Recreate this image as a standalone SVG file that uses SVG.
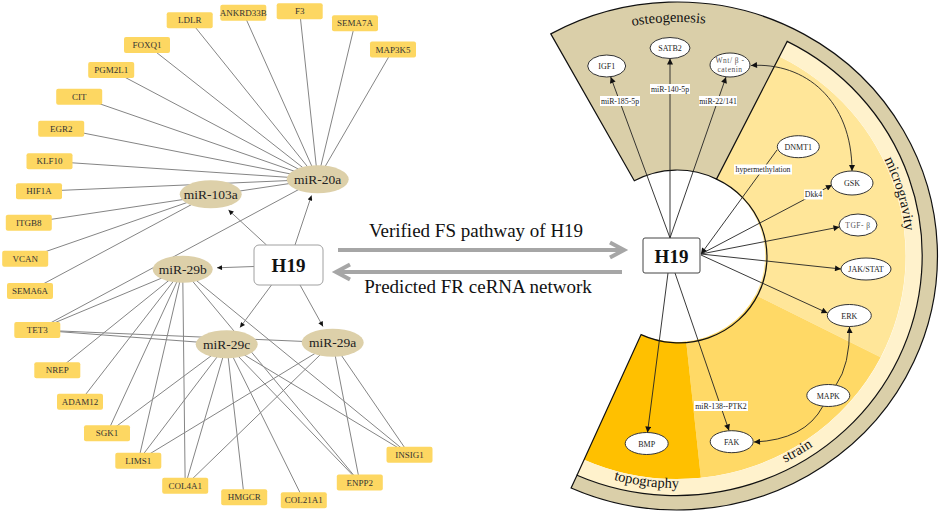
<svg xmlns="http://www.w3.org/2000/svg" width="941" height="515" viewBox="0 0 941 515">
<style>
.g rect{fill:#FDD762}
.g text{font-family:'Liberation Serif',serif;font-size:9px;fill:#333;text-anchor:middle}
.m ellipse{fill:#DDD0A9}
.m text{font-family:'Liberation Serif',serif;font-size:13.5px;fill:#222;text-anchor:middle}
.e line{stroke:#858585;stroke-width:1}
.a{stroke:#444;stroke-width:1;marker-end:url(#ah)}
.r ellipse{fill:#fff;stroke:#333;stroke-width:1}
.r text{font-family:'Liberation Serif',serif;font-size:8px;fill:#222;text-anchor:middle}
.r text.lt{fill:#555;font-size:7.5px;letter-spacing:0.5px}
.lb rect{fill:#fff}
.lb text{font-family:'Liberation Serif',serif;font-size:7.8px;fill:#222;text-anchor:middle}
.k{stroke:#222;stroke-width:0.9;fill:none;marker-end:url(#ar)}
.big{font-family:'Liberation Serif',serif;font-size:19px;fill:#111;text-anchor:middle}
.sec{font-family:'Liberation Serif',serif;font-size:14.5px;fill:#111}
.ga{stroke:#A6A6A6;stroke-width:4;fill:none}
</style>
<defs>
<marker id="ah" viewBox="0 0 10 10" refX="10" refY="5" markerWidth="6" markerHeight="5" markerUnits="userSpaceOnUse" orient="auto"><path d="M0,0 L10,5 L0,10z" fill="#111"/></marker>
<marker id="ar" viewBox="0 0 10 10" refX="10" refY="5" markerWidth="8" markerHeight="6" markerUnits="userSpaceOnUse" orient="auto-start-reverse"><path d="M0,0 L10,5 L0,10z" fill="#111"/></marker>
<path id="pOst" d="M560.7 51.3 A239.9 234 0 0 1 778.4 43.9"/>
<path id="pTopo" d="M576.5 466.3 A237.8 232 0 0 0 718.3 484.5"/>
<path id="pStrain" d="M742.5 479 A237.8 232 0 0 0 848 417.2"/>
<path id="pMicro" d="M873.8 140.6 A229.6 224 0 0 1 906.6 252.1"/>
</defs>

<!-- right: sector background -->
<g id="sectors">
<path d="M550.8 33.9 A260.35 254 0 1 1 571.1 488 L577 475.2 A246 240 0 0 0 787.2 41.4 L716.5 179.1 A88.15 86 0 0 0 634.3 180.8 Z" fill="#DACFA9"/>
<path d="M779.4 56.6 A228.6 223 0 0 1 880.7 357.2 L755.5 295 A88.15 86 0 0 0 716.5 179.1 Z" fill="#FFE699"/>
<path d="M880.7 357.2 A228.6 223 0 0 1 700.9 477.8 L686.2 341.5 A88.15 86 0 0 0 755.5 295 Z" fill="#FFD966"/>
<path d="M700.9 477.8 A228.6 223 0 0 1 584 459.7 L641.1 334.6 A88.15 86 0 0 0 686.2 341.5 Z" fill="#FFC000"/>
<path d="M787.2 41.4 A246 240 0 0 1 577 475.2 L584 459.7 A228.6 223 0 0 0 779.4 56.6 Z" fill="#FFF2CC"/>
<path d="M550.8 33.9 A260.35 254 0 1 1 571.1 488 L577 475.2 A246 240 0 0 0 787.2 41.4 L716.5 179.1 A88.15 86 0 0 0 634.3 180.8 Z" fill="none" stroke="#111" stroke-width="1.2"/>
<path d="M716.5 179.1 A88.15 86 0 0 1 641.1 334.6 L577 475.2" fill="none" stroke="#111" stroke-width="1.2"/>
<text class="sec"><textPath href="#pOst" startOffset="50%" text-anchor="middle">osteogenesis</textPath></text>
<text class="sec"><textPath href="#pTopo" startOffset="50%" text-anchor="middle">topography</textPath></text>
<text class="sec"><textPath href="#pStrain" startOffset="50%" text-anchor="middle">strain</textPath></text>
<text class="sec"><textPath href="#pMicro" startOffset="50%" text-anchor="middle">microgravity</textPath></text>
</g>

<!-- left connectors -->
<g id="connectors-left" class="e">
<line x1="317.7" y1="179.3" x2="189.7" y2="20.3"/>
<line x1="317.7" y1="179.3" x2="243.3" y2="12.8"/>
<line x1="317.7" y1="179.3" x2="299.7" y2="11.3"/>
<line x1="317.7" y1="179.3" x2="355" y2="23.3"/>
<line x1="317.7" y1="179.3" x2="393" y2="49.5"/>
<line x1="317.7" y1="179.3" x2="147" y2="45"/>
<line x1="317.7" y1="179.3" x2="111.2" y2="70"/>
<line x1="317.7" y1="179.3" x2="79.2" y2="96.7"/>
<line x1="317.7" y1="179.3" x2="61.2" y2="128.7"/>
<line x1="317.7" y1="179.3" x2="49.5" y2="161.3"/>
<line x1="317.7" y1="179.3" x2="39" y2="191.3"/>
<line x1="317.7" y1="179.3" x2="28.8" y2="222.7"/>
<line x1="317.7" y1="179.3" x2="37.3" y2="330"/>
<line x1="210.7" y1="194.3" x2="25.2" y2="258.7"/>
<line x1="210.7" y1="194.3" x2="30" y2="291"/>
<line x1="182.7" y1="269.3" x2="37.3" y2="330"/>
<line x1="182.7" y1="269.3" x2="57.3" y2="370.3"/>
<line x1="182.7" y1="269.3" x2="80" y2="401.7"/>
<line x1="182.7" y1="269.3" x2="107" y2="433.3"/>
<line x1="182.7" y1="269.3" x2="138.3" y2="460.8"/>
<line x1="182.7" y1="269.3" x2="185.2" y2="485.8"/>
<line x1="182.7" y1="269.3" x2="359.8" y2="482.5"/>
<line x1="182.7" y1="269.3" x2="409.5" y2="454.7"/>
<line x1="226.7" y1="344.3" x2="37.3" y2="330"/>
<line x1="226.7" y1="344.3" x2="107" y2="433.3"/>
<line x1="226.7" y1="344.3" x2="138.3" y2="460.8"/>
<line x1="226.7" y1="344.3" x2="185.2" y2="485.8"/>
<line x1="226.7" y1="344.3" x2="244.2" y2="497.3"/>
<line x1="226.7" y1="344.3" x2="303.8" y2="500.3"/>
<line x1="226.7" y1="344.3" x2="359.8" y2="482.5"/>
<line x1="226.7" y1="344.3" x2="409.5" y2="454.7"/>
<line x1="332.7" y1="342.7" x2="37.3" y2="330"/>
<line x1="332.7" y1="342.7" x2="138.3" y2="460.8"/>
<line x1="332.7" y1="342.7" x2="185.2" y2="485.8"/>
<line x1="332.7" y1="342.7" x2="359.8" y2="482.5"/>
<line x1="332.7" y1="342.7" x2="409.5" y2="454.7"/>
<line class="a" x1="295" y1="245" x2="311.5" y2="195.5"/>
<line class="a" x1="266.5" y1="245" x2="228.5" y2="210"/>
<line class="a" x1="254" y1="266.5" x2="217" y2="267.8"/>
<line class="a" x1="271.5" y1="285" x2="240" y2="327.5"/>
<line class="a" x1="300" y1="285" x2="323" y2="326.5"/>
</g>

<!-- gene nodes -->
<g id="LDLR" class="g"><rect x="166.7" y="12.3" width="46" height="16" rx="2"/><text x="189.7" y="23.3">LDLR</text></g>
<g id="ANKRD33B" class="g"><rect x="220.3" y="4.8" width="46" height="16" rx="2"/><text x="243.3" y="15.8">ANKRD33B</text></g>
<g id="F3" class="g"><rect x="276.7" y="3.3" width="46" height="16" rx="2"/><text x="299.7" y="14.3">F3</text></g>
<g id="SEMA7A" class="g"><rect x="332" y="15.3" width="46" height="16" rx="2"/><text x="355" y="26.3">SEMA7A</text></g>
<g id="MAP3K5" class="g"><rect x="370" y="41.5" width="46" height="16" rx="2"/><text x="393" y="52.5">MAP3K5</text></g>
<g id="FOXQ1" class="g"><rect x="124" y="37" width="46" height="16" rx="2"/><text x="147" y="48">FOXQ1</text></g>
<g id="PGM2L1" class="g"><rect x="88.2" y="62" width="46" height="16" rx="2"/><text x="111.2" y="73">PGM2L1</text></g>
<g id="CIT" class="g"><rect x="56.2" y="88.7" width="46" height="16" rx="2"/><text x="79.2" y="99.7">CIT</text></g>
<g id="EGR2" class="g"><rect x="38.2" y="120.7" width="46" height="16" rx="2"/><text x="61.2" y="131.7">EGR2</text></g>
<g id="KLF10" class="g"><rect x="26.5" y="153.3" width="46" height="16" rx="2"/><text x="49.5" y="164.3">KLF10</text></g>
<g id="HIF1A" class="g"><rect x="16" y="183.3" width="46" height="16" rx="2"/><text x="39" y="194.3">HIF1A</text></g>
<g id="ITGB8" class="g"><rect x="5.8" y="214.7" width="46" height="16" rx="2"/><text x="28.8" y="225.7">ITGB8</text></g>
<g id="VCAN" class="g"><rect x="2.2" y="250.7" width="46" height="16" rx="2"/><text x="25.2" y="261.7">VCAN</text></g>
<g id="SEMA6A" class="g"><rect x="7" y="283" width="46" height="16" rx="2"/><text x="30" y="294">SEMA6A</text></g>
<g id="TET3" class="g"><rect x="14.3" y="322" width="46" height="16" rx="2"/><text x="37.3" y="333">TET3</text></g>
<g id="NREP" class="g"><rect x="34.3" y="362.3" width="46" height="16" rx="2"/><text x="57.3" y="373.3">NREP</text></g>
<g id="ADAM12" class="g"><rect x="57" y="393.7" width="46" height="16" rx="2"/><text x="80" y="404.7">ADAM12</text></g>
<g id="SGK1" class="g"><rect x="84" y="425.3" width="46" height="16" rx="2"/><text x="107" y="436.3">SGK1</text></g>
<g id="LIMS1" class="g"><rect x="115.3" y="452.8" width="46" height="16" rx="2"/><text x="138.3" y="463.8">LIMS1</text></g>
<g id="COL4A1" class="g"><rect x="162.2" y="477.8" width="46" height="16" rx="2"/><text x="185.2" y="488.8">COL4A1</text></g>
<g id="HMGCR" class="g"><rect x="221.2" y="489.3" width="46" height="16" rx="2"/><text x="244.2" y="500.3">HMGCR</text></g>
<g id="COL21A1" class="g"><rect x="280.8" y="492.3" width="46" height="16" rx="2"/><text x="303.8" y="503.3">COL21A1</text></g>
<g id="ENPP2" class="g"><rect x="336.8" y="474.5" width="46" height="16" rx="2"/><text x="359.8" y="485.5">ENPP2</text></g>
<g id="INSIG1" class="g"><rect x="386.5" y="446.7" width="46" height="16" rx="2"/><text x="409.5" y="457.7">INSIG1</text></g>

<!-- miRNA nodes -->
<g id="miR-20a" class="m"><ellipse cx="317.7" cy="179.3" rx="31" ry="14"/><text x="317.7" y="184">miR-20a</text></g>
<g id="miR-103a" class="m"><ellipse cx="210.7" cy="194.3" rx="31" ry="14"/><text x="210.7" y="199">miR-103a</text></g>
<g id="miR-29b" class="m"><ellipse cx="182.7" cy="269.3" rx="30" ry="13.5"/><text x="182.7" y="274">miR-29b</text></g>
<g id="miR-29c" class="m"><ellipse cx="226.7" cy="344.3" rx="31" ry="14"/><text x="226.7" y="349">miR-29c</text></g>
<g id="miR-29a" class="m"><ellipse cx="332.7" cy="342.7" rx="31" ry="14"/><text x="332.7" y="347.4">miR-29a</text></g>
<g id="H19-left"><rect x="254" y="245" width="69" height="40" rx="5" fill="#fff" stroke="#A0A0A0" stroke-width="1"/><text x="288.5" y="271.5" font-family="'Liberation Serif',serif" font-size="19" font-weight="bold" fill="#111" text-anchor="middle">H19</text></g>

<!-- central arrows -->
<g id="middle">
<path class="ga" d="M338 250 H623"/>
<path class="ga" d="M610 242.5 L624 250 L610 257.5"/>
<path class="ga" d="M622 272 H337"/>
<path class="ga" d="M350 264.5 L336 272 L350 279.5"/>
<text class="big" x="476" y="237">Verified FS pathway of H19</text>
<text class="big" x="478" y="293">Predicted FR ceRNA network</text>
</g>

<!-- right connectors -->
<g id="connectors-right">
<path class="k" d="M670 238 L610.7 77"/>
<path class="k" d="M670 238 L670 58.5"/>
<path class="k" d="M670 238 L726 77"/>
<path class="k" d="M777 150 L701 254"/>
<path class="k" d="M701 254 L832 185"/>
<path class="k" d="M701 254 L839.5 227"/>
<path class="k" d="M701 254 L841 269"/>
<path class="k" d="M701 255 L827.5 313"/>
<path class="k" d="M668 273 L647.5 432.5"/>
<path class="k" d="M675 273 L729 430.5"/>
<path class="k" d="M836 385 Q850 365 849.5 327"/>
<path class="k" d="M823 406 Q805 440 754 442"/>
<path class="k" d="M751 65.5 C805 62 852 100 852 171" marker-start="url(#ar)"/>
</g>
<g id="edge-labels" class="lb">
<g><rect x="600" y="96" width="40" height="10"/><text x="620" y="103.8">miR-185-5p</text></g>
<g><rect x="650" y="84" width="40" height="10"/><text x="670" y="91.8">miR-140-5p</text></g>
<g><rect x="699" y="96" width="38" height="10"/><text x="718" y="103.8">miR-22/141</text></g>
<g><rect x="734" y="164.5" width="58" height="10"/><text x="763" y="172.3">hypermethylation</text></g>
<g><rect x="804" y="189.5" width="19" height="10"/><text x="813.5" y="197.3">Dkk4</text></g>
<g><rect x="694" y="401" width="54" height="10"/><text x="721" y="408.8">miR-138--PTK2</text></g>
</g>

<!-- right nodes -->
<g id="H19-right"><rect x="643" y="238" width="57" height="35" rx="2" fill="#fff" stroke="#444" stroke-width="1"/><text x="671.5" y="262.5" font-family="'Liberation Serif',serif" font-size="19" font-weight="bold" fill="#111" text-anchor="middle">H19</text></g>
<g id="IGF1" class="r"><ellipse cx="606.7" cy="66" rx="19" ry="11"/><text x="606.7" y="69">IGF1</text></g>
<g id="SATB2" class="r"><ellipse cx="670" cy="48" rx="20" ry="10.5"/><text x="670" y="51">SATB2</text></g>
<g id="Wnt" class="r"><ellipse cx="730" cy="65" rx="20" ry="12"/><text class="lt" x="730" y="62.5">Wnt/ β -</text><text class="lt" x="730" y="72">catenin</text></g>
<g id="DNMT1" class="r"><ellipse cx="798.3" cy="146.7" rx="21" ry="11"/><text x="798.3" y="149.7">DNMT1</text></g>
<g id="GSK" class="r"><ellipse cx="852" cy="183" rx="21" ry="12"/><text x="852" y="186">GSK</text></g>
<g id="TGF" class="r"><ellipse cx="858" cy="225" rx="19" ry="11"/><text class="lt" x="858" y="227.5">TGF- β</text></g>
<g id="JAKSTAT" class="r"><ellipse cx="866" cy="269" rx="25" ry="11"/><text x="866" y="272">JAK/STAT</text></g>
<g id="ERK" class="r"><ellipse cx="849.3" cy="315.5" rx="22" ry="11"/><text x="849.3" y="318.5">ERK</text></g>
<g id="MAPK" class="r"><ellipse cx="828.3" cy="395.5" rx="21.5" ry="11"/><text x="828.3" y="398.5">MAPK</text></g>
<g id="BMP" class="r"><ellipse cx="646.7" cy="443.5" rx="21.5" ry="11"/><text x="646.7" y="446.5">BMP</text></g>
<g id="FAK" class="r"><ellipse cx="731.7" cy="441.7" rx="21.5" ry="11"/><text x="731.7" y="444.7">FAK</text></g>
</svg>
